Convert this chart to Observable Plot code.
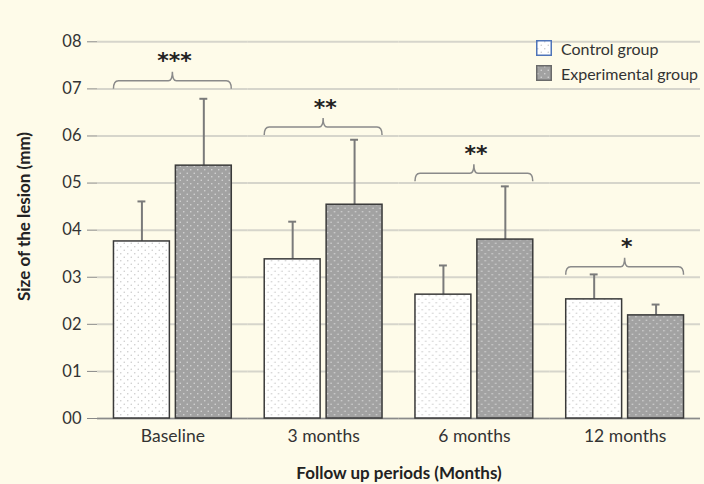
<!DOCTYPE html>
<html><head><meta charset="utf-8">
<script src="https://cdn.jsdelivr.net/npm/d3@7"></script>
<script src="https://cdn.jsdelivr.net/npm/@observablehq/plot@0.6"></script>
<style>
html,body{margin:0;padding:0;background:#fefbe9;overflow:hidden;}
#chart{position:relative;width:704px;height:484px;font-family:Lato,sans-serif;}
#chart svg{display:block;}
[aria-label="y-axis label"] text, [aria-label="y-axis label"],
[aria-label="fx-axis label"] text, [aria-label="fx-axis label"]{font-weight:bold;font-size:17px;fill:#222;}
#legend{position:absolute;left:536px;top:40px;font-size:16px;color:#333;white-space:nowrap;}
#legend .row{display:flex;align-items:center;height:16px;margin-bottom:9px;}
#legend svg{margin-right:9px;}
</style></head><body><div id="chart"></div>
<script>
const groups = ["Baseline", "3 months", "6 months", "12 months"];
const seriesNames = ["Control group", "Experimental group"];
const controlMean = [3.76, 3.38, 2.63, 2.53];
const controlSD = [0.85, 0.80, 0.62, 0.53];
const experimentalMean = [5.37, 4.54, 3.80, 2.19];
const experimentalSD = [1.42, 1.38, 1.13, 0.23];
const significance = ["***", "**", "**", "*"];
const bracketLevel = [7.16, 6.18, 5.20, 3.21];
const yTicks = [0, 1, 2, 3, 4, 5, 6, 7, 8];
const yTickLabels = ["00", "01", "02", "03", "04", "05", "06", "07", "08"];

const rows = groups.flatMap((g, i) => [
  {group: g, series: seriesNames[0], mean: controlMean[i], sd: controlSD[i]},
  {group: g, series: seriesNames[1], mean: experimentalMean[i], sd: experimentalSD[i]}
]);
const brackets = groups.map((g, i) => ({group: g, level: bracketLevel[i], label: significance[i]}));

const patternDefs = `<defs>
<pattern id="dotsLight" width="7" height="7" patternUnits="userSpaceOnUse">
<rect width="7" height="7" fill="#ffffff"/><circle cx="1.75" cy="1.75" r="0.75" fill="#c8c8c8"/><circle cx="5.25" cy="5.25" r="0.75" fill="#c8c8c8"/></pattern>
<pattern id="dotsDark" width="7" height="7" patternUnits="userSpaceOnUse">
<rect width="7" height="7" fill="#a2a2a2"/><circle cx="1.75" cy="1.75" r="0.8" fill="#d6d6d6"/><circle cx="5.25" cy="5.25" r="0.8" fill="#d6d6d6"/></pattern>
</defs>`;

function bracketRender(index, scales, values) {
  const g = d3.create("svg:g");
  const xs = scales.x;
  const bw = typeof xs.bandwidth === "function" ? xs.bandwidth() : scales.scales.x.bandwidth;
  const x0 = xs(seriesNames[0]);
  const x1 = xs(seriesNames[1]) + bw;
  const cx = (x0 + x1) / 2;
  for (const i of index) {
    const y = values.y[i];
    g.append("path")
      .attr("d", `M${x0},${y + 8} Q${x0},${y} ${x0 + 5},${y} H${cx - 4} Q${cx},${y} ${cx},${y - 9} Q${cx},${y} ${cx + 4},${y} H${x1 - 5} Q${x1},${y} ${x1},${y + 8}`)
      .attr("fill", "none").attr("stroke", "#8a8a8a").attr("stroke-width", 1.5);
  }
  return g.node();
}

const plot = Plot.plot({
  width: 704, height: 484,
  marginLeft: 97, marginRight: 4, marginTop: 14, marginBottom: 66,
  style: {background: "transparent", fontFamily: "Lato, sans-serif", fontSize: "16px", color: "#333"},
  fx: {domain: groups, padding: 0, round: false},
  x: {domain: seriesNames, axis: null, paddingInner: 0.097, paddingOuter: 0.266, round: false},
  y: {domain: [0, 8.58]},
  color: {domain: seriesNames, range: ["url(#dotsLight)", "url(#dotsDark)"]},
  marks: [
    Plot.gridY(yTicks, {stroke: "#d6d5cb", strokeOpacity: 1, strokeWidth: 2}),
    Plot.ruleY([0], {stroke: "#8a8a8a", strokeWidth: 1.5}),
    Plot.ruleX(rows, {fx: "group", x: "series", y1: "mean", y2: d => d.mean + d.sd, stroke: "#7a7a7a", strokeWidth: 2}),
    Plot.tickY(rows, {fx: "group", x: "series", y: d => d.mean + d.sd, stroke: "#7a7a7a", strokeWidth: 2, insetLeft: 24, insetRight: 24}),
    Plot.barY(rows, {fx: "group", x: "series", y: "mean", fill: "series", stroke: "#3a3a3a", strokeWidth: 1.5}),
    Plot.ruleY(brackets, {fx: "group", y: "level", render: bracketRender}),
    Plot.text(brackets, {fx: "group", y: "level", text: "label", dx: 1.5, dy: -20, fontSize: 22, fontWeight: "bold", fontFamily: "DejaVu Sans", fill: "#222", letterSpacing: 3}),
    Plot.axisY(yTicks, {tickFormat: (d, i) => yTickLabels[yTicks.indexOf(d)], tickSize: 10, tickPadding: 6, stroke: "#888", fill: "#333", fontSize: 16.5,
      label: "Size of the lesion (mm)", labelAnchor: "center", labelArrow: "none", labelOffset: 80, line: true}),
    Plot.axisFx({anchor: "bottom", tickSize: 0, tickPadding: 11, fontSize: 17.5, fill: "#333",
      label: "Follow up periods (Months)", labelAnchor: "center", labelArrow: "none", labelOffset: 60})
  ]
});
plot.insertAdjacentHTML("afterbegin", patternDefs);
const chart = document.getElementById("chart");
chart.appendChild(plot);

// legend
const legend = d3.select(chart).append("div").attr("id", "legend");
const swatchFill = ["url(#dotsLight)", "url(#dotsDark)"];
const swatchStroke = ["#4f74b8", "#6a6a6a"];
seriesNames.forEach((s, i) => {
  const row = legend.append("div").attr("class", "row");
  const sv = row.append("svg").attr("width", 16).attr("height", 16);
  sv.append("rect").attr("x", 0.75).attr("y", 0.75).attr("width", 14.5).attr("height", 14.5)
    .attr("fill", swatchFill[i]).attr("stroke", swatchStroke[i]).attr("stroke-width", 1.5);
  row.append("span").text(s);
});
</script></body></html>
